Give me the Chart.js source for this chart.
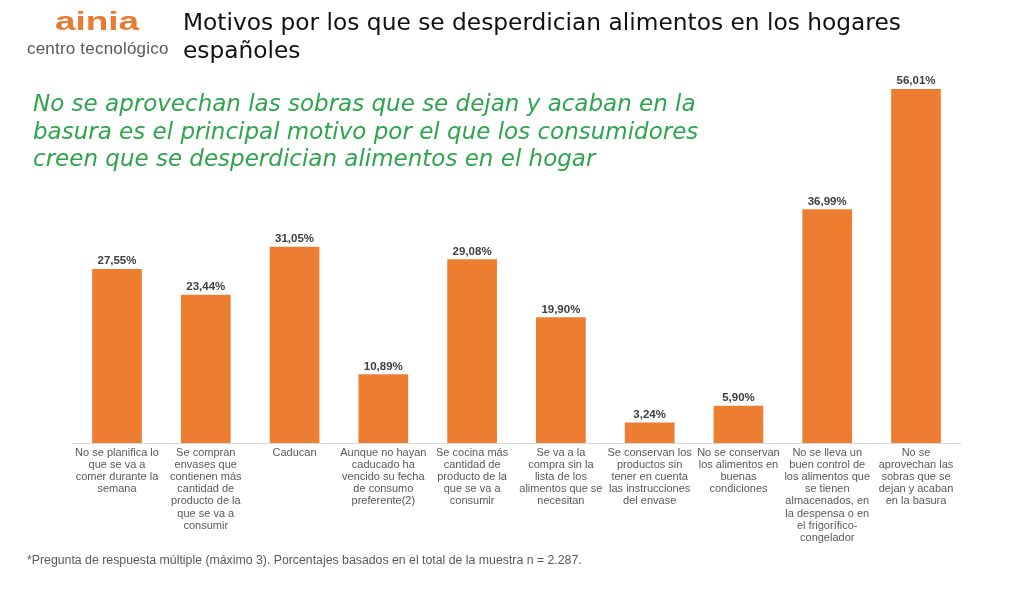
<!DOCTYPE html>
<html>
<head>
<meta charset="utf-8">
<script src="https://cdn.jsdelivr.net/npm/chart.js@4.4.0/dist/chart.umd.min.js"></script>
<style>
  html, body { margin: 0; padding: 0; background: #fff; }
  #wrap { position: relative; width: 1024px; height: 592px; overflow: hidden; }
  #chart { position: absolute; left: 0; top: 0; }
  .logo { position: absolute; left: 55px; top: 8px; font-family: "Liberation Sans", Arial, sans-serif; font-weight: bold; font-size: 26px; line-height: 26px; color: #ea7a30; transform: scaleX(1.42); transform-origin: left top; }
  .sub { position: absolute; left: 27px; top: 39px; font-family: "Liberation Sans", Arial, sans-serif; font-size: 17px; letter-spacing: 0.2px; color: #595959; }
  .title { position: absolute; left: 183px; top: 8px; font-family: "DejaVu Sans", Verdana, sans-serif; font-size: 23.3px; line-height: 28px; color: #111; }
  .lead { position: absolute; left: 33px; top: 90px; font-family: "DejaVu Sans", sans-serif; font-style: italic; font-size: 23px; line-height: 27.5px; color: #2ea54c; }
  .note { position: absolute; left: 27px; top: 553px; font-family: "Liberation Sans", Arial, sans-serif; font-size: 12.3px; color: #595959; }
</style>
</head>
<body>
<div id="wrap">
  <canvas id="chart" width="1024" height="592"></canvas>
  <div class="logo">ainia</div>
  <div class="sub">centro tecnológico</div>
  <div class="title">Motivos por los que se desperdician alimentos en los hogares<br>españoles</div>
  <div class="lead">No se aprovechan las sobras que se dejan y acaban en la<br>basura es el principal motivo por el que los consumidores<br>creen que se desperdician alimentos en el hogar</div>
  <div class="note">*Pregunta de respuesta múltiple (máximo 3). Porcentajes basados en el total de la muestra n = 2.287.</div>
</div>
<script>
// categories (already split in lines like the original)
const motivos = [
    ['No se planifica lo', 'que se va a', 'comer durante la', 'semana'],
    ['Se compran', 'envases que', 'contienen más', 'cantidad de', 'producto de la', 'que se va a', 'consumir'],
    ['Caducan'],
    ['Aunque no hayan', 'caducado ha', 'vencido su fecha', 'de consumo', 'preferente(2)'],
    ['Se cocina más', 'cantidad de', 'producto de la', 'que se va a', 'consumir'],
    ['Se va a la', 'compra sin la', 'lista de los', 'alimentos que se', 'necesitan'],
    ['Se conservan los', 'productos sin', 'tener en cuenta', 'las instrucciones', 'del envase'],
    ['No se conservan', 'los alimentos en', 'buenas', 'condiciones'],
    ['No se lleva un', 'buen control de', 'los alimentos que', 'se tienen', 'almacenados, en', 'la despensa o en', 'el frigorífico-', 'congelador'],
    ['No se', 'aprovechan las', 'sobras que se', 'dejan y acaban', 'en la basura']
];
const porcentajes = [27.55, 23.44, 31.05, 10.89, 29.08, 19.90, 3.24, 5.90, 36.99, 56.01];

// value labels above each bar, Spanish decimal comma
const valueLabels = {
    id: 'valueLabels',
    afterDatasetsDraw(chart) {
        const ctx = chart.ctx;
        const meta = chart.getDatasetMeta(0);
        ctx.save();
        ctx.font = 'bold 11.5px "Liberation Sans", Arial, sans-serif';
        ctx.fillStyle = '#404040';
        ctx.textAlign = 'center';
        ctx.textBaseline = 'bottom';
        meta.data.forEach((bar, i) => {
            const txt = porcentajes[i].toFixed(2).replace('.', ',') + '%';
            ctx.fillText(txt, bar.x, bar.y - 2);
        });
        ctx.restore();
    }
};

const ctx = document.getElementById('chart').getContext('2d');
new Chart(ctx, {
    type: 'bar',
    data: {
        labels: motivos,
        datasets: [{
            data: porcentajes,
            backgroundColor: '#ed7d31',
            barPercentage: 0.56,
            categoryPercentage: 1
        }]
    },
    options: {
        responsive: false,
        animation: false,
        layout: { padding: { left: 72.6, right: 63.6, top: 89, bottom: 0 } },
        plugins: { legend: { display: false }, tooltip: { enabled: false } },
        scales: {
            x: {
                grid: { display: false },
                border: { color: '#d9d9d9', width: 1 },
                ticks: {
                    color: '#595959',
                    font: { family: '"Liberation Sans", Arial, sans-serif', size: 11, lineHeight: 1.1 },
                    maxRotation: 0,
                    autoSkip: false,
                    padding: -4
                },
                afterFit: (axis) => { axis.height = 149; }
            },
            y: {
                display: false,
                min: 0,
                max: 56.01
            }
        }
    },
    plugins: [valueLabels]
});
</script>
</body>
</html>
